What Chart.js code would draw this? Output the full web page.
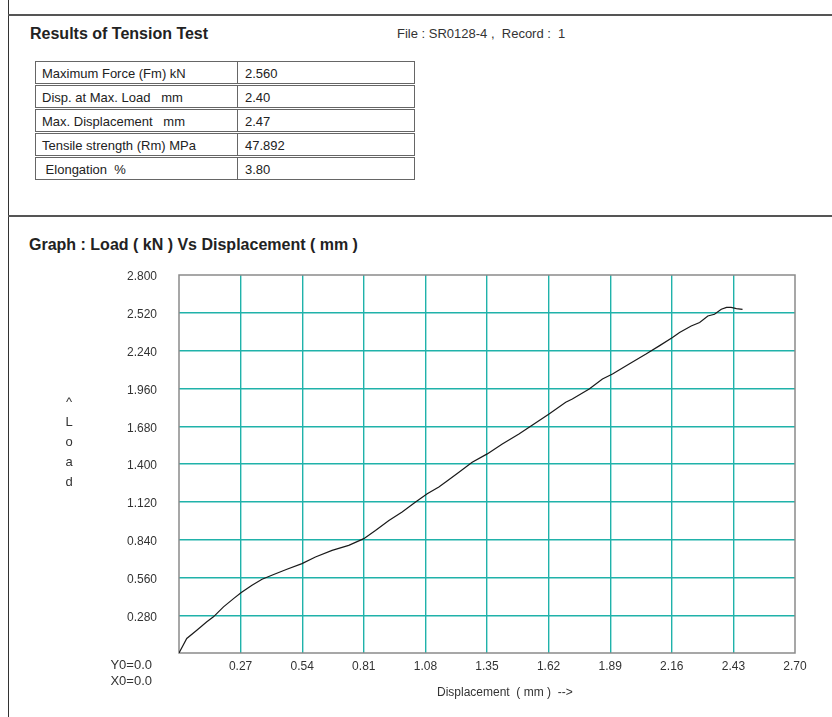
<!DOCTYPE html>
<html lang="en">
  <head>
    <meta charset="UTF-8">
    <script src="https://cdn.jsdelivr.net/npm/chart.js@4.4.0/dist/chart.umd.min.js"></script>
    <style>
      body { margin: 0; background: #fff; font-family: Arial, 'Liberation Sans', sans-serif; color: #222; }
      .page { position: relative; width: 832px; height: 717px; overflow: hidden; }
      .vline { position: absolute; left: 8px; top: 0; width: 1px; height: 717px; background: #333; }
      .hline { position: absolute; left: 8px; right: 0; height: 2px; background: #555; }
      .txt { position: absolute; white-space: pre; line-height: 1; }
      .bold { font-weight: bold; font-size: 16px; color: #222; }
      .small { font-size: 12px; color: #333; }
      .row { position: absolute; left: 35px; width: 378px; height: 21px; border: 1px solid #666; font-size: 13px; }
      .row span { position: absolute; top: 4px; }
      .row .sep { position: absolute; left: 201px; top: 0; width: 1px; height: 21px; background: #666; }
      .yaxis-name { position: absolute; left: 62px; top: 392px; width: 14px; text-align: center; font-size: 13px; line-height: 20px; color: #333; }
      #wrap { position: absolute; left: 0; top: 230px; width: 832px; height: 487px; }
    </style>
  </head>
  <body>
    <div class="page">
      <div class="vline"></div>
      <div class="hline" style="top:14px"></div>
      <div class="hline" style="top:215px"></div>

      <div class="txt bold" style="left:30px; top:26px">Results of Tension Test</div>
      <div class="txt small" style="left:397px; top:27px; font-size:13px">File : SR0128-4 ,  Record :  1</div>

      <div id="table"></div>

      <div class="txt bold" style="left:29px; top:237px">Graph : Load ( kN ) Vs Displacement ( mm )</div>

      <div id="wrap"><canvas id="chart"></canvas></div>

      <div class="yaxis-name">^<br>L<br>o<br>a<br>d</div>
      <div class="txt small" style="right:680px; top:658px; font-size:13px">Y0=0.0</div>
      <div class="txt small" style="right:680px; top:674px; font-size:13px">X0=0.0</div>
      <div class="txt small" style="left:437px; top:686px">Displacement  ( mm )  --&gt;</div>
    </div>

    <script>
      // test summary
      const resultNames = ['Maximum Force (Fm) kN', 'Disp. at Max. Load   mm', 'Max. Displacement   mm', 'Tensile strength (Rm) MPa', ' Elongation  %'];
      const resultValues = ['2.560', '2.40', '2.47', '47.892', '3.80'];

      // curve
      const displacement = [0, 0.034, 0.078, 0.122, 0.151, 0.195, 0.239, 0.273, 0.320, 0.364,
        0.415, 0.473, 0.539, 0.598, 0.671, 0.744, 0.810, 0.861, 0.920, 0.978,
        1.037, 1.088, 1.139, 1.169, 1.227, 1.285, 1.351, 1.417, 1.490, 1.556,
        1.622, 1.695, 1.724, 1.798, 1.856, 1.900, 1.973, 2.047, 2.105, 2.163,
        2.194, 2.245, 2.282, 2.318, 2.347, 2.377, 2.400, 2.420, 2.443, 2.470];
      const load = [0, 0.108, 0.169, 0.231, 0.268, 0.342, 0.403, 0.448, 0.502, 0.546,
        0.581, 0.620, 0.662, 0.711, 0.760, 0.797, 0.847, 0.908, 0.982, 1.044,
        1.118, 1.179, 1.229, 1.266, 1.339, 1.413, 1.475, 1.549, 1.622, 1.696,
        1.770, 1.857, 1.881, 1.955, 2.029, 2.066, 2.140, 2.214, 2.275, 2.337,
        2.374, 2.422, 2.448, 2.496, 2.509, 2.546, 2.560, 2.560, 2.551, 2.545];

      const xTicks = [0, 0.27, 0.54, 0.81, 1.08, 1.35, 1.62, 1.89, 2.16, 2.43, 2.70];
      const yTicks = [0, 0.28, 0.56, 0.84, 1.12, 1.40, 1.68, 1.96, 2.24, 2.52, 2.80];

      const table = document.getElementById('table');
      resultNames.forEach((name, i) => {
        const row = document.createElement('div');
        row.className = 'row';
        row.style.top = (61 + i * 24) + 'px';
        row.innerHTML = '<span style="left:6px">' + name.replace(/ /g, '&nbsp;') + '</span><div class="sep"></div>' +
          '<span style="left:209px">' + resultValues[i] + '</span>';
        table.appendChild(row);
      });

      const teal = '#20b2aa';
      const gridColor = (ctx) => (ctx.index === 0 || ctx.index === ctx.scale.ticks.length - 1) ? 'rgba(0,0,0,0)' : teal;

      const frame = {
        id: 'frame',
        beforeDatasetsDraw(chart) {
          const a = chart.chartArea, c = chart.ctx;
          c.save();
          c.strokeStyle = '#8a8a8a';
          c.lineWidth = 1.5;
          c.strokeRect(a.left, a.top, a.right - a.left, a.bottom - a.top);
          c.restore();
        }
      };

      new Chart(document.getElementById('chart'), {
        type: 'line',
        data: {
          datasets: [{
            data: displacement.map((x, i) => ({ x: x, y: load[i] })),
            borderColor: '#1a1a1a',
            borderWidth: 1.2,
            pointRadius: 0,
            tension: 0,
            fill: false
          }]
        },
        options: {
          responsive: true,
          maintainAspectRatio: false,
          animation: false,
          layout: { padding: { left: 100, right: 37, top: 45, bottom: 34 } },
          plugins: { legend: { display: false }, tooltip: { enabled: false } },
          scales: {
            x: {
              type: 'linear',
              min: 0,
              max: 2.7,
              afterBuildTicks: (s) => { s.ticks = xTicks.map(v => ({ value: v })); },
              afterFit: (s) => { s.height = 30; },
              border: { display: false },
              grid: { color: gridColor, lineWidth: 1.4, drawTicks: false },
              ticks: {
                padding: 6,
                color: '#333',
                font: { family: "Arial, 'Liberation Sans'", size: 12 },
                maxRotation: 0,
                autoSkip: false,
                callback: (v) => v === 0 ? '' : v.toFixed(2)
              }
            },
            y: {
              min: 0,
              max: 2.8,
              afterBuildTicks: (s) => { s.ticks = yTicks.map(v => ({ value: v })); },
              afterFit: (s) => { s.width = 79; },
              border: { display: false },
              grid: { color: gridColor, lineWidth: 1.4, drawTicks: false },
              ticks: {
                padding: 22,
                labelOffset: 2,
                color: '#333',
                font: { family: "Arial, 'Liberation Sans'", size: 12 },
                autoSkip: false,
                callback: (v) => v === 0 ? '' : v.toFixed(3)
              }
            }
          }
        },
        plugins: [frame]
      });
    </script>
  </body>
</html>
